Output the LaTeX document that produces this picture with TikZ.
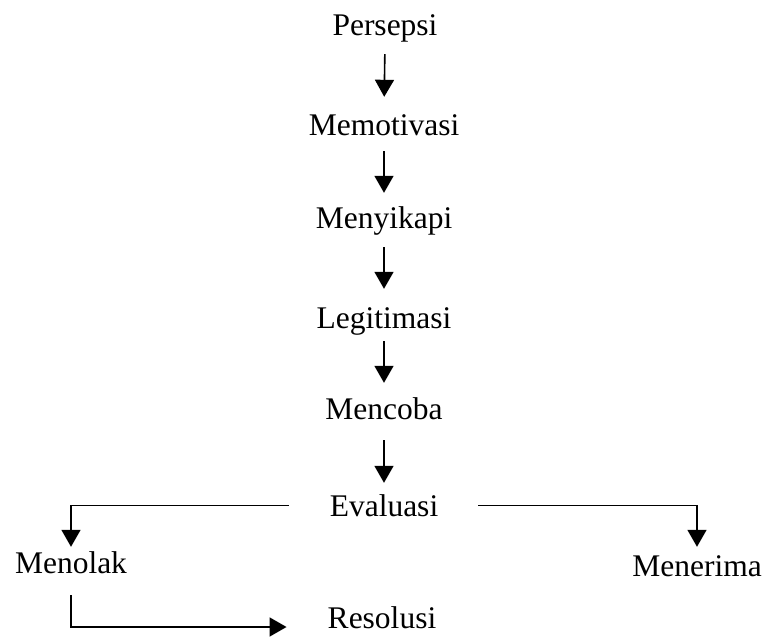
\documentclass[tikz,border=0pt]{standalone}
\usepackage{fontspec}
\setmainfont{Liberation Serif}
\usetikzlibrary{arrows.meta}

\tikzset{
  stage/.style={inner sep=0pt, anchor=base, text height=22pt, text depth=7pt,
                font=\fontsize{31.5}{36}\selectfont},
  link/.style={line width=1.6pt, -{Triangle[width=19pt,length=17pt]}},
}

\begin{document}
\begin{tikzpicture}[x=1pt, y=-1pt]
  \useasboundingbox (0,0) rectangle (765,643);

  % main chain of stages
  \node[stage] (persepsi)   at (385,35)  {Persepsi};
  \node[stage] (memotivasi) at (384,135) {Memotivasi};
  \node[stage] (menyikapi)  at (384,228) {Menyikapi};
  \node[stage] (legitimasi) at (384,328) {Legitimasi};
  \node[stage] (mencoba)    at (384,419) {Mencoba};
  \node[stage] (evaluasi)   at (384,516) {Evaluasi};

  % outcomes of the evaluation
  \node[stage] (menolak)    at (71,573)  {Menolak};
  \node[stage] (menerima)   at (697,576) {Menerima};
  \node[stage] (resolusi)   at (382,628) {Resolusi};

  % vertical steps
  \draw[link, shorten <=12pt, shorten >=16pt] (persepsi.south)   -- (memotivasi.north);
  \draw[link, shorten <=9pt,  shorten >=13pt] (memotivasi.south) -- (menyikapi.north);
  \draw[link, shorten <=12pt, shorten >=17pt] (menyikapi.south)  -- (legitimasi.north);
  \draw[link, shorten <=6pt,  shorten >=14pt] (legitimasi.south) -- (mencoba.north);
  \draw[link, shorten <=14pt, shorten >=11pt] (mencoba.south)    -- (evaluasi.north);

  % branches out of the evaluation
  \draw[link, shorten <=41pt, shorten >=4pt]
    ([yshift=3pt]evaluasi.west) -| (menolak.north);
  \draw[link, shorten <=40pt, shorten >=7pt]
    ([yshift=3pt]evaluasi.east) -| (menerima.north);

  % rejection leads to resolution
  \draw[link, shorten <=15pt, shorten >=41pt]
    (menolak.south) |- ([yshift=-6.5pt]resolusi.west);
\end{tikzpicture}
\end{document}
